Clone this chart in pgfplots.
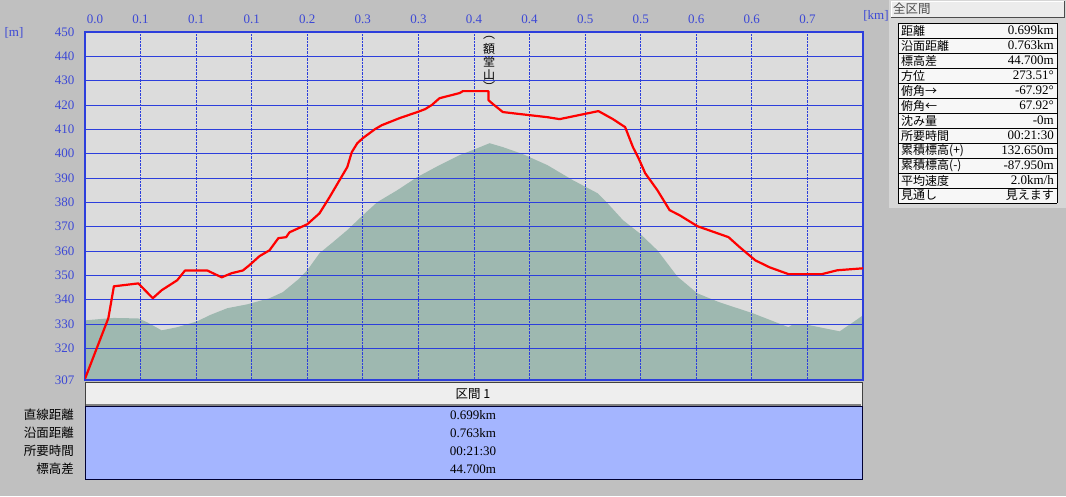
\documentclass[border=0pt]{standalone}
\usepackage{fontspec}
\setmainfont{Liberation Serif}
\newfontfamily\jp{Noto Sans CJK JP}
\usepackage{pgfplots}
\usepackage{pgfplotstable}
\pgfplotsset{compat=1.18}

\definecolor{bggray}{RGB}{192,192,192}
\definecolor{plotbg}{RGB}{220,220,220}
\definecolor{gridblue}{RGB}{44,62,220}
\definecolor{lblblue}{RGB}{60,72,214}
\definecolor{terrain}{RGB}{158,184,176}
\definecolor{bodyblue}{RGB}{164,181,255}
\definecolor{hdrgray}{RGB}{238,238,238}
\definecolor{panelgray}{RGB}{214,214,214}
\pagecolor{bggray}

% terrain cross-section (km, m)
\pgfplotstableread{
x y
0.000 331.5
0.020 332.3
0.026 332.5
0.048 332.3
0.056 330.7
0.069 327.4
0.083 328.7
0.101 331.1
0.112 333.6
0.128 336.5
0.146 338.1
0.166 340.6
0.178 343.1
0.191 348.0
0.200 352.1
0.211 359.1
0.223 363.6
0.236 368.6
0.250 374.7
0.263 380.1
0.281 385.0
0.299 390.4
0.319 395.3
0.337 399.4
0.349 401.5
0.364 404.3
0.376 402.7
0.394 399.8
0.416 395.3
0.439 389.1
0.461 383.8
0.470 379.7
0.484 372.7
0.499 367.3
0.515 360.3
0.533 349.5
0.551 342.6
0.571 338.9
0.601 334.4
0.633 328.7
0.637 329.9
0.652 329.5
0.679 327.0
0.691 330.7
0.700 333.6
}\terraindata

% route profile (km, m)
\pgfplotstableread{
x y
0.000 307.5
0.021 332.4
0.026 345.5
0.048 346.7
0.061 340.6
0.069 343.9
0.083 348.0
0.090 352.0
0.110 352.0
0.123 349.2
0.132 350.9
0.142 352.0
0.148 354.2
0.157 357.9
0.166 360.3
0.174 365.3
0.181 365.7
0.184 367.7
0.200 371.0
0.211 375.5
0.220 382.1
0.229 389.1
0.236 394.5
0.240 400.6
0.245 404.3
0.250 406.4
0.261 410.1
0.267 411.7
0.283 414.6
0.299 417.1
0.306 418.3
0.312 420.0
0.319 422.8
0.337 424.9
0.340 425.7
0.363 425.7
0.363 422.0
0.367 420.4
0.376 417.1
0.391 416.3
0.416 415.0
0.427 414.2
0.445 415.9
0.462 417.5
0.475 414.2
0.486 410.9
0.493 402.7
0.498 398.2
0.504 392.0
0.515 385.0
0.526 376.8
0.535 374.7
0.551 370.2
0.579 365.7
0.589 361.6
0.603 356.2
0.616 353.3
0.633 350.5
0.663 350.5
0.677 352.1
0.700 352.9
}\routedata

\newcommand\prow[3]{%
  \node[anchor=west,inner sep=0] at ({901},{30.5+15*#1}) {\jp\fontsize{12}{12}\selectfont #2};
  \node[anchor=east,inner sep=0] at ({1054},{30.5+15*#1}) {\fontsize{13}{13}\selectfont #3};}
\newcommand\brow[3]{%
  \node[anchor=east,inner sep=0] at ({74},{#1}) {\jp\fontsize{12.5}{12.5}\selectfont #2};
  \node[inner sep=0] at ({473},{#1}) {\fontsize{13}{13}\selectfont #3};}

\begin{document}
\begin{tikzpicture}
\begin{scope}[x=1pt,y=-1pt]
  \path (0,0) rectangle (1066,496);
\end{scope}

\begin{axis}[
  at={(85pt,-380pt)}, anchor=south west,
  scale only axis, width=778pt, height=348pt,
  xmin=0, xmax=0.7, ymin=307, ymax=450,
  set layers,
  axis background/.style={fill=plotbg},
  xtick={0,0.05,0.1,0.15,0.2,0.25,0.3,0.35,0.4,0.45,0.5,0.55,0.6,0.65},
  xticklabels={{\hspace*{20pt}0.0},0.1,0.1,0.1,0.2,0.3,0.3,0.4,0.4,0.5,0.5,0.6,0.6,0.7},
  xticklabel pos=upper,
  ytick={307,320,330,340,350,360,370,380,390,400,410,420,430,440,450},
  major tick length=0pt,
  /pgf/number format/assume math mode=true,
  ticklabel style={font=\fontsize{13}{13}\selectfont, text=lblblue},
  xticklabel style={yshift=5pt},
  yticklabel style={xshift=-7pt},
  grid=major,
  x grid style={gridblue, densely dotted, line width=0.8pt},
  y grid style={gridblue, line width=0.9pt},
  axis line style={gridblue, line width=1.5pt},
]
\addplot[on layer=axis background, fill=terrain, draw=none] table[x=x,y=y]{\terraindata} \closedcycle;
\addplot[red, line width=2.2pt, line join=round, no marks] table[x=x,y=y]{\routedata};
\end{axis}

\begin{scope}[x=1pt,y=-1pt]
  % axis units
  \node[text=lblblue, font=\fontsize{13}{13}\selectfont] at (14,33) {[m]};
  \node[text=lblblue, font=\fontsize{13}{13}\selectfont] at (876,16) {[km]};
  % summit name, vertical
  \begin{scope}[font=\jp\fontsize{12}{12}\selectfont, inner sep=0]
    \node at (489,38) {︵};
    \node at (489,49) {額};
    \node at (489,62) {堂};
    \node at (489,75) {山};
    \node at (489,86) {︶};
  \end{scope}

  % right panel
  \fill[panelgray] (889,0) rectangle (1066,208);
  \fill[white!85!gray] (891,1) rectangle (1064,17);
  \draw[white] (891,17) -- (891,1) -- (1064,1);
  \draw[gray!60!black] (891,17) -- (1064,17) -- (1064,1);
  \node[anchor=west, inner sep=0, text=black!70, font=\jp\fontsize{12.5}{12.5}\selectfont] at (893,9) {全区間};
  \fill[white!94!gray] (898,23) rectangle (1057,203);
  \foreach \k in {0,...,12} \draw[black, line width=0.8pt] (898,{23+15*\k}) -- (1057,{23+15*\k});
  \draw[black, line width=0.8pt] (898,23) -- (898,203) (1057,23) -- (1057,203);
  \prow{0}{距離}{0.699km}
  \prow{1}{沿面距離}{0.763km}
  \prow{2}{標高差}{44.700m}
  \prow{3}{方位}{273.51°}
  \prow{4}{俯角→}{-67.92°}
  \prow{5}{俯角←}{67.92°}
  \prow{6}{沈み量}{-0m}
  \prow{7}{所要時間}{00:21:30}
  \prow{8}{累積標高(+)}{132.650m}
  \prow{9}{累積標高(-)}{-87.950m}
  \prow{10}{平均速度}{2.0km/h}
  \prow{11}{見通し}{\jp\fontsize{12}{12}\selectfont 見えます}

  % bottom table
  \fill[hdrgray] (85,382) rectangle (862,406);
  \draw[gray!50!black, line width=0.8pt] (85,382) rectangle (862,406);
  \draw[gray, line width=1.2pt] (86,405) -- (861,405);
  \node[inner sep=0, font=\jp\fontsize{12.5}{12.5}\selectfont] at (473,394) {区間 1};
  \fill[bodyblue] (85,406) rectangle (862,479);
  \draw[black!80!blue, line width=0.8pt] (85,406) rectangle (862,479);
  \brow{415}{直線距離}{0.699km}
  \brow{433}{沿面距離}{0.763km}
  \brow{451}{所要時間}{00:21:30}
  \brow{469}{標高差}{44.700m}
\end{scope}
\end{tikzpicture}
\end{document}
